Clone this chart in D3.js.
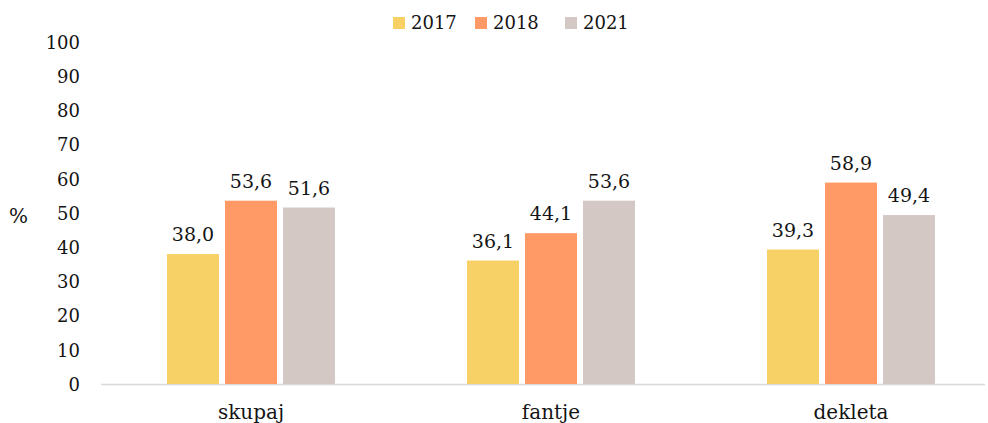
<!DOCTYPE html>
<html><head><meta charset="utf-8">
<script src="https://cdn.jsdelivr.net/npm/d3@7"></script>
<style>
body{margin:0;background:#fff;}
</style></head>
<body><svg id="c" width="988" height="423"></svg>
<script>
const categories = ["skupaj","fantje","dekleta"];
const seriesNames = ["2017","2018","2021"];
const v2017 = [38.0, 36.1, 39.3];
const v2018 = [53.6, 44.1, 58.9];
const v2021 = [51.6, 53.6, 49.4];
const yTicks = [0,10,20,30,40,50,60,70,80,90,100];
const colors = ["#F8D166","#FF9966","#D3C8C3"];
const FONT = "'DejaVu Serif', 'Liberation Serif', serif";

const series = [v2017, v2018, v2021];
const svg = d3.select("#c");
const y = d3.scaleLinear().domain([0,100]).range([384,42]);
const x0 = d3.scaleBand().domain(categories).range([101,1001]).paddingInner(0).paddingOuter(0);
const x1 = d3.scaleBand().domain(seriesNames).range([-84,84]).paddingInner(6/58).paddingOuter(0);

function txt(sel, size){ return sel.style("font-family",FONT).style("font-size",size+"px").style("fill","#141414"); }

// axis line
svg.append("line").attr("x1",101).attr("x2",985).attr("y1",y(0)+0.5).attr("y2",y(0)+0.5)
  .attr("stroke","#D9D9D9").attr("stroke-width",1.5);

// y tick labels
const yAxis = d3.axisLeft(y).tickValues(yTicks).tickSize(0).tickPadding(0).tickFormat(d=>d);
const ga = svg.append("g").attr("transform","translate(80,0)").call(yAxis);
ga.select(".domain").remove();
txt(ga.selectAll("text"),18).attr("dy","0.35em");

txt(svg.append("text").attr("x",9).attr("y",216).attr("dy","0.35em"),20).text("%");

// bars
categories.forEach((c,i)=>{
  const cx = x0(c)+x0.bandwidth()/2;
  seriesNames.forEach((s,j)=>{
    const v = series[j][i];
    const bx = cx + x1(s);
    svg.append("rect").attr("x",bx).attr("y",y(v)).attr("width",x1.bandwidth()).attr("height",y(0)-y(v))
      .attr("fill",colors[j]);
    txt(svg.append("text").attr("x",bx+x1.bandwidth()/2).attr("y",y(v)-13).attr("text-anchor","middle"),19)
      .text(d3.format(".1f")(v).replace(".",","));
  });
  txt(svg.append("text").attr("x",cx).attr("y",419).attr("text-anchor","middle"),20).text(c);
});

// legend
const legX = [393,475,565];
seriesNames.forEach((s,j)=>{
  svg.append("rect").attr("x",legX[j]).attr("y",17).attr("width",12).attr("height",12).attr("fill",colors[j]);
  txt(svg.append("text").attr("x",legX[j]+18).attr("y",29),18).text(s);
});
</script></body></html>
